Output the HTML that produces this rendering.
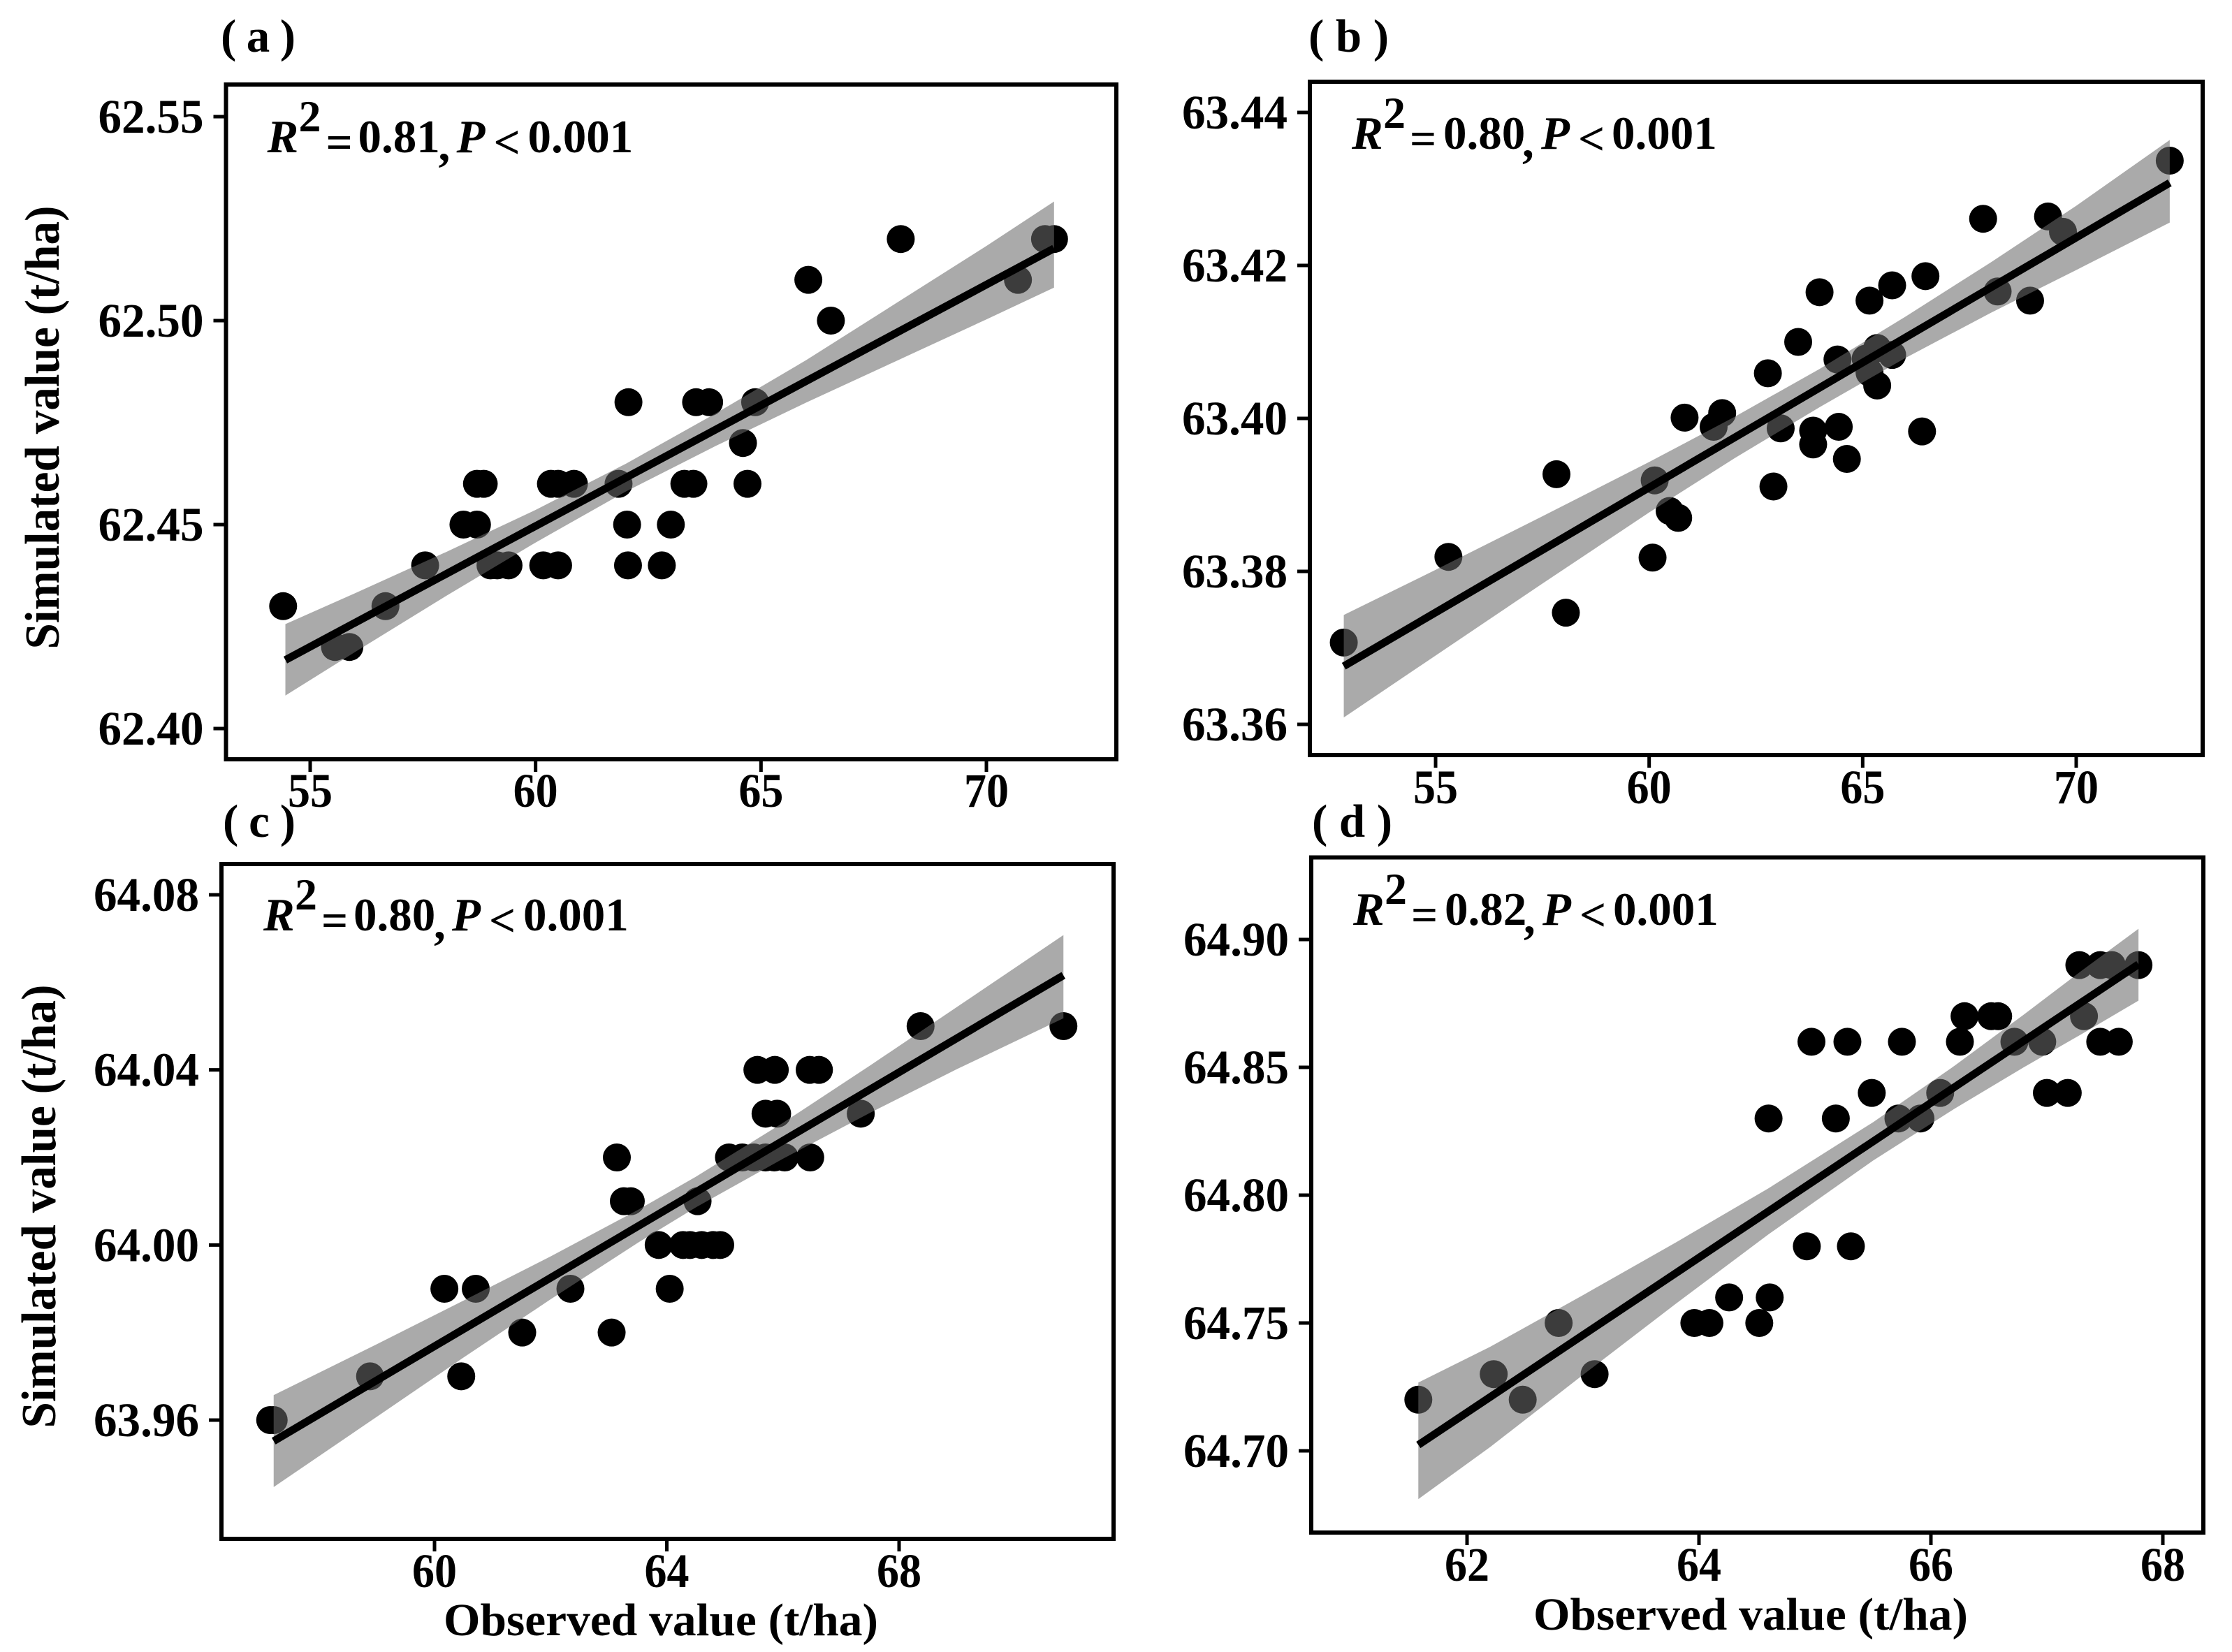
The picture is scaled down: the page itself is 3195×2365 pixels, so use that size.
<!DOCTYPE html>
<html lang="en">
<head>
<meta charset="utf-8">
<title>Observed vs simulated value scatter panels</title>
<style>
html,body{margin:0;padding:0;background:#fff;}
svg{display:block;}
text{font-family:"Liberation Serif",serif;font-weight:bold;fill:#000;}
.ticklabel{font-size:69px;}
.ann{font-size:67px;}
.sup{font-size:64px;}
.it{font-style:italic;}
.panel-label{font-size:67px;}
.y-title{font-size:70px;}
.x-title{font-size:66px;}
.frame{fill:none;stroke:#000;stroke-width:6px;}
</style>
</head>
<body>
<svg id="figure" xmlns="http://www.w3.org/2000/svg" width="3195" height="2365" viewBox="0 0 3195 2365">
  <rect x="0" y="0" width="3195" height="2365" fill="#fff"/>

  <g id="panel-a"></g>
  <g id="panel-b"></g>
  <g id="panel-c"></g>
  <g id="panel-d"></g>

  <rect class="frame" x="323.5" y="121" width="1274.5" height="966"/>
  <rect class="frame" x="1875" y="117" width="1278" height="964"/>
  <rect class="frame" x="317" y="1237" width="1277" height="966"/>
  <rect class="frame" x="1877" y="1227.5" width="1277" height="966.5"/>

  <text class="panel-label" x="316" y="74" textLength="107" lengthAdjust="spacing">( a )</text>
  <text class="panel-label" x="1873" y="74" textLength="115" lengthAdjust="spacing">( b )</text>
  <text class="panel-label" x="319" y="1198" textLength="104" lengthAdjust="spacing">( c )</text>
  <text class="panel-label" x="1878" y="1198" textLength="115" lengthAdjust="spacing">( d )</text>

  <text class="y-title" transform="translate(84,612) rotate(-90)" text-anchor="middle" textLength="635" lengthAdjust="spacingAndGlyphs">Simulated value (t/ha)</text>
  <text class="y-title" transform="translate(79,1727) rotate(-90)" text-anchor="middle" textLength="635" lengthAdjust="spacingAndGlyphs">Simulated value (t/ha)</text>
  <text class="x-title" x="946" y="2341" text-anchor="middle" textLength="622" lengthAdjust="spacingAndGlyphs">Observed value (t/ha)</text>
  <text class="x-title" x="2506" y="2333" text-anchor="middle" textLength="622" lengthAdjust="spacingAndGlyphs">Observed value (t/ha)</text>

  <g transform="translate(323.5,218)">
    <text class="ann it" x="59" y="0">R</text><text class="sup" x="104" y="-30">2</text><text class="ann" x="143" y="8">=</text><text class="ann" x="189" y="0">0.81</text><text class="ann" x="304" y="12">,</text><text class="ann it" x="330" y="0">P</text><text class="ann" x="383" y="8">&lt;</text><text class="ann" x="432" y="0">0.001</text>
  </g>
  <g transform="translate(1875,213)">
    <text class="ann it" x="60" y="0">R</text><text class="sup" x="105" y="-30">2</text><text class="ann" x="143" y="8">=</text><text class="ann" x="191" y="0">0.80</text><text class="ann" x="304" y="12">,</text><text class="ann it" x="331" y="0">P</text><text class="ann" x="384" y="8">&lt;</text><text class="ann" x="432" y="0">0.001</text>
  </g>
  <g transform="translate(317,1332)">
    <text class="ann it" x="60" y="0">R</text><text class="sup" x="105" y="-30">2</text><text class="ann" x="143" y="8">=</text><text class="ann" x="189" y="0">0.80</text><text class="ann" x="304" y="12">,</text><text class="ann it" x="330" y="0">P</text><text class="ann" x="383" y="8">&lt;</text><text class="ann" x="432" y="0">0.001</text>
  </g>
  <g transform="translate(1877,1324)">
    <text class="ann it" x="60" y="0">R</text><text class="sup" x="105" y="-30">2</text><text class="ann" x="143" y="8">=</text><text class="ann" x="191" y="0">0.82</text><text class="ann" x="304" y="12">,</text><text class="ann it" x="331" y="0">P</text><text class="ann" x="384" y="8">&lt;</text><text class="ann" x="432" y="0">0.001</text>
  </g>
</svg>

<script>
// ---- Panel (a) data ----
const aPointsX = [68.1,71.3,71.5,66.05,70.7,66.55,62.06,63.56,63.85,64.87,64.6,58.7,58.85,60.34,60.5,60.85,61.84,63.3,63.5,64.7,58.4,58.7,62.03,63.0,57.55,59.0,59.15,59.4,60.17,60.5,62.05,62.8,54.4,56.67,55.55,55.87];
const aPointsY = [62.52,62.52,62.52,62.51,62.51,62.50,62.48,62.48,62.48,62.48,62.47,62.46,62.46,62.46,62.46,62.46,62.46,62.46,62.46,62.46,62.45,62.45,62.45,62.45,62.44,62.44,62.44,62.44,62.44,62.44,62.44,62.44,62.43,62.43,62.42,62.42];
const aLineX = [54.45,71.5];
const aLineY = [62.4168,62.5177];
const aBandX = [54.45,56,58,60,62,64,66,68,70,71.5];
const aBandUpper = [62.4256,62.4332,62.4432,62.4536,62.4649,62.4773,62.4903,62.5043,62.5183,62.5292];
const aBandLower = [62.4081,62.4188,62.4324,62.4456,62.4581,62.4693,62.4799,62.4901,62.5003,62.5081];
const aXTicks = ["55","60","65","70"];
const aYTicks = ["62.40","62.45","62.50","62.55"];

// ---- Panel (b) data ----
const bPointsX = [52.85,55.3,57.83,58.05,60.13,60.08,60.48,60.68,60.83,61.51,61.71,62.78,62.91,63.08,63.49,63.84,63.84,63.99,64.41,64.44,64.63,65.07,65.16,65.16,65.34,65.34,65.69,65.69,66.47,66.39,67.82,68.16,68.92,69.34,69.69,72.19];
const bPointsY = [63.3707,63.3819,63.3927,63.3746,63.3919,63.3818,63.3879,63.3870,63.4001,63.3989,63.4007,63.4059,63.3911,63.3987,63.4100,63.3984,63.3966,63.4165,63.4077,63.3989,63.3947,63.4078,63.4060,63.4154,63.4092,63.4043,63.4083,63.4174,63.4186,63.3983,63.4261,63.4166,63.4154,63.4264,63.4244,63.4337];
const bLineX = [52.85,72.19];
const bLineY = [63.3676,63.4308];
const bBandX = [52.85,55,57.5,60,62,64,66,68,70,72.19];
const bBandUpper = [63.3743,63.3802,63.3872,63.3943,63.4002,63.4065,63.4133,63.4204,63.4278,63.4364];
const bBandLower = [63.3609,63.3690,63.3784,63.3877,63.3948,63.4015,63.4079,63.4138,63.4194,63.4256];
const bXTicks = ["55","60","65","70"];
const bYTicks = ["63.36","63.38","63.40","63.42","63.44"];

// ---- Panel (c) data ----
const cPointsX = [68.37,70.83,65.56,65.86,66.46,66.62,65.7,65.9,67.34,63.14,65.07,65.3,65.5,65.7,65.85,66.03,66.47,63.26,63.38,64.53,63.86,64.28,64.4,64.6,64.8,64.92,60.17,60.71,62.34,64.05,61.51,63.05,58.89,60.46,57.17,57.23];
const cPointsY = [64.05,64.05,64.04,64.04,64.04,64.04,64.03,64.03,64.03,64.02,64.02,64.02,64.02,64.02,64.02,64.02,64.02,64.01,64.01,64.01,64.00,64.00,64.00,64.00,64.00,64.00,63.99,63.99,63.99,63.99,63.98,63.98,63.97,63.97,63.96,63.96];
const cLineX = [57.23,70.83];
const cLineY = [63.9552,64.0616];
const cBandX = [57.23,59,60.5,62,63.5,64.5,66,67.5,69,70.83];
const cBandUpper = [63.9657,63.9773,63.9873,63.9974,64.0080,64.0156,64.0279,64.0410,64.0544,64.0708];
const cBandLower = [63.9447,63.9607,63.9743,63.9876,64.0005,64.0086,64.0197,64.0302,64.0402,64.0518];
const cXTicks = ["60","64","68"];
const cYTicks = ["63.96","64.00","64.04","64.08"];

// ---- Panel (d) data ----
const dPointsX = [67.28,67.46,67.56,67.79,66.29,66.52,66.58,67.32,64.97,65.28,65.75,66.25,66.72,66.96,67.46,67.62,65.49,66.08,67.0,67.18,64.6,65.18,65.72,65.91,64.93,65.31,64.26,64.61,62.79,63.96,64.09,64.52,62.23,63.1,61.58,62.48];
const dPointsY = [64.89,64.89,64.89,64.89,64.87,64.87,64.87,64.87,64.86,64.86,64.86,64.86,64.86,64.86,64.86,64.86,64.84,64.84,64.84,64.84,64.83,64.83,64.83,64.83,64.78,64.78,64.76,64.76,64.75,64.75,64.75,64.75,64.73,64.73,64.72,64.72];
const dLineX = [61.58,67.79];
const dLineY = [64.7023,64.8903];
const dBandX = [61.58,62.2,63,63.8,64.6,65.5,66.2,66.8,67.3,67.79];
const dBandUpper = [64.7267,64.7407,64.7609,64.7815,64.8027,64.8285,64.8505,64.8706,64.8878,64.9042];
const dBandLower = [64.6811,64.7015,64.7297,64.7575,64.7847,64.8135,64.8337,64.8500,64.8630,64.8761];
const dXTicks = ["62","64","66","68"];
const dYTicks = ["64.70","64.75","64.80","64.85","64.90"];

// ---- Axis calibration: two reference values with their pixel positions ----
const axisA = {id:'panel-a', xv:[55,70], xp:[444,1412], yv:[62.40,62.55], yp:[1043,167], left:323.5, bottom:1087, labelDrop:68};
const axisB = {id:'panel-b', xv:[55,70], xp:[2055,2972], yv:[63.36,63.44], yp:[1037,161], left:1875, bottom:1081, labelDrop:69};
const axisC = {id:'panel-c', xv:[60,68], xp:[622,1287], yv:[63.96,64.08], yp:[2033,1281], left:317, bottom:2203, labelDrop:69};
const axisD = {id:'panel-d', xv:[62,68], xp:[2100,3096], yv:[64.70,64.90], yp:[2077,1345], left:1877, bottom:2194, labelDrop:69};

const NS = 'http://www.w3.org/2000/svg';

function xScale(ax, v) {
  return ax.xp[0] + (v - ax.xv[0]) * (ax.xp[1] - ax.xp[0]) / (ax.xv[1] - ax.xv[0]);
}
function yScale(ax, v) {
  return ax.yp[0] + (v - ax.yv[0]) * (ax.yp[1] - ax.yp[0]) / (ax.yv[1] - ax.yv[0]);
}

function drawPanel(ax, px, py, lx, ly, bx, bu, bl, xt, yt) {
  const g = document.getElementById(ax.id);

  for (let i = 0; i < px.length; i++) {
    const c = document.createElementNS(NS, 'circle');
    
    
    c.setAttribute('cx', xScale(ax, px[i]));
    c.setAttribute('cy', yScale(ax, py[i]));
    c.setAttribute('r', 20);
    c.setAttribute('fill', '#000');
    g.appendChild(c);
  }

  const up = bx.map((x, i) => xScale(ax, x) + ',' + yScale(ax, bu[i]));
  const lo = bx.map((x, i) => xScale(ax, x) + ',' + yScale(ax, bl[i])).reverse();
  const band = document.createElementNS(NS, 'polygon');
  
  
  band.setAttribute('points', up.concat(lo).join(' '));
  band.setAttribute('fill', 'rgb(105,105,105)');
  band.setAttribute('fill-opacity', '0.57');
  g.appendChild(band);

  const line = document.createElementNS(NS, 'line');
  
  
  line.setAttribute('x1', xScale(ax, lx[0]));
  line.setAttribute('y1', yScale(ax, ly[0]));
  line.setAttribute('x2', xScale(ax, lx[1]));
  line.setAttribute('y2', yScale(ax, ly[1]));
  line.setAttribute('stroke', '#000');
  line.setAttribute('stroke-width', '11');
  g.appendChild(line);

  xt.forEach(function (t) {
    const x = xScale(ax, parseFloat(t));
    const tick = document.createElementNS(NS, 'line');
    
    
    tick.setAttribute('x1', x);
    tick.setAttribute('x2', x);
    tick.setAttribute('y1', ax.bottom);
    tick.setAttribute('y2', ax.bottom + 18);
    tick.setAttribute('stroke', '#000');
    tick.setAttribute('stroke-width', '5');
    g.appendChild(tick);
    const lab = document.createElementNS(NS, 'text');
    
    
    lab.setAttribute('class', 'ticklabel');
    lab.setAttribute('x', x);
    lab.setAttribute('y', ax.bottom + ax.labelDrop);
    lab.setAttribute('text-anchor', 'middle');
    lab.setAttribute('textLength', '64');
    lab.setAttribute('lengthAdjust', 'spacingAndGlyphs');
    lab.textContent = t;
    g.appendChild(lab);
  });

  yt.forEach(function (t) {
    const y = yScale(ax, parseFloat(t));
    const tick = document.createElementNS(NS, 'line');
    
    
    tick.setAttribute('x1', ax.left - 18);
    tick.setAttribute('x2', ax.left);
    tick.setAttribute('y1', y);
    tick.setAttribute('y2', y);
    tick.setAttribute('stroke', '#000');
    tick.setAttribute('stroke-width', '5');
    g.appendChild(tick);
    const lab = document.createElementNS(NS, 'text');
    
    
    lab.setAttribute('class', 'ticklabel');
    lab.setAttribute('x', ax.left - 32);
    lab.setAttribute('y', y + 23);
    lab.setAttribute('text-anchor', 'end');
    lab.setAttribute('textLength', '151');
    lab.setAttribute('lengthAdjust', 'spacingAndGlyphs');
    lab.textContent = t;
    g.appendChild(lab);
  });
}

drawPanel(axisA, aPointsX, aPointsY, aLineX, aLineY, aBandX, aBandUpper, aBandLower, aXTicks, aYTicks);
drawPanel(axisB, bPointsX, bPointsY, bLineX, bLineY, bBandX, bBandUpper, bBandLower, bXTicks, bYTicks);
drawPanel(axisC, cPointsX, cPointsY, cLineX, cLineY, cBandX, cBandUpper, cBandLower, cXTicks, cYTicks);
drawPanel(axisD, dPointsX, dPointsY, dLineX, dLineY, dBandX, dBandUpper, dBandLower, dXTicks, dYTicks);
</script>
</body>
</html>
